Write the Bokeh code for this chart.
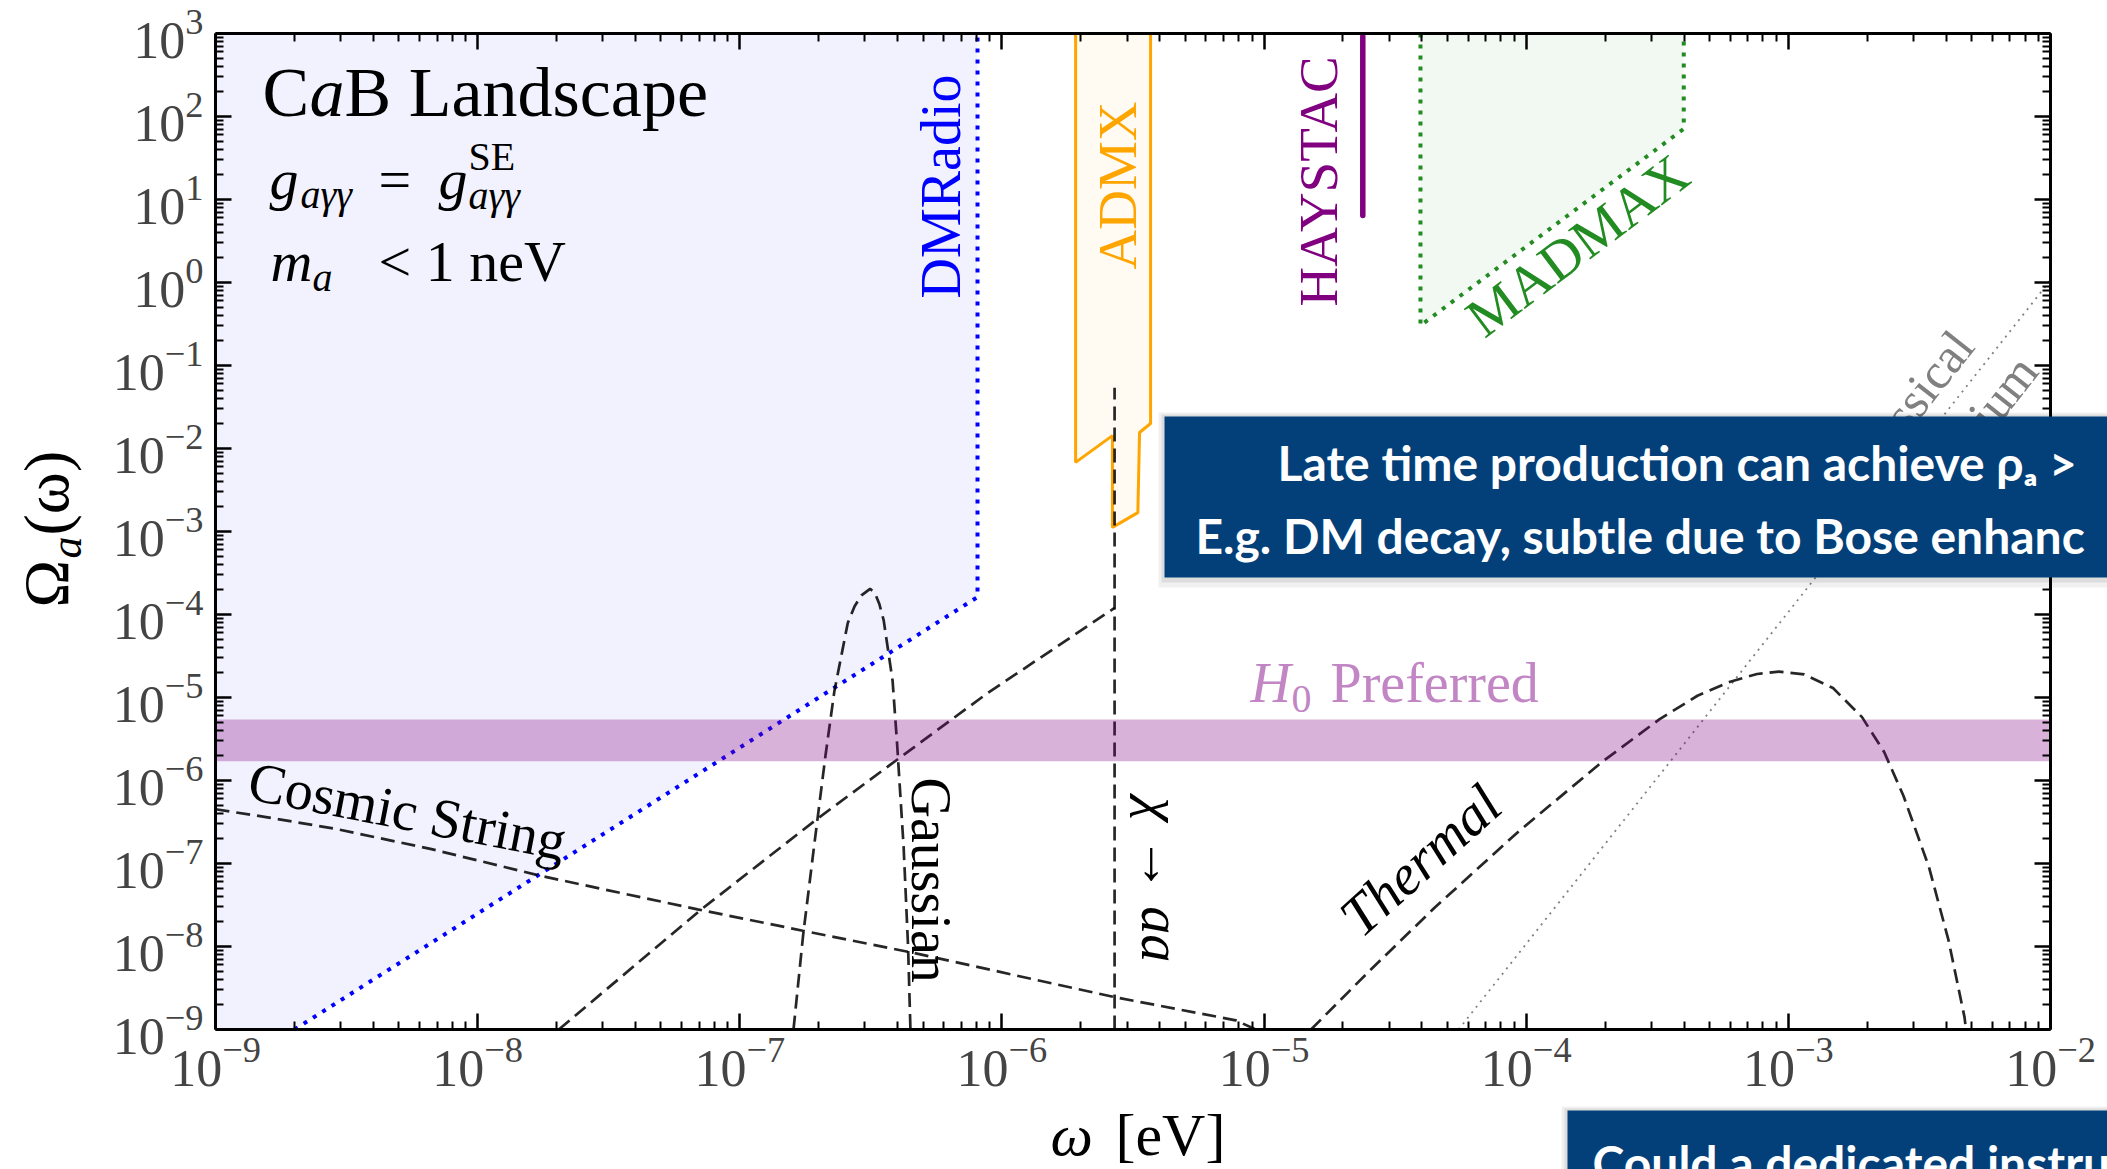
import math
from bokeh.plotting import figure
from bokeh.models import FixedTicker, LogAxis, Label, BoxAnnotation, Range1d, CustomJSTickFormatter
from bokeh.embed import file_html
from bokeh.resources import INLINE

# ---------------- data ----------------
x_major = [1e-9, 1e-8, 1e-7, 1e-6, 1e-5, 1e-4, 1e-3, 1e-2]
y_major = [1e-9, 1e-8, 1e-7, 1e-6, 1e-5, 1e-4, 1e-3, 1e-2, 1e-1, 1e0, 1e1, 1e2, 1e3]
mantissas = [2, 3, 4, 5, 6, 7, 8, 9]
x_lim = (1e-9, 1e-2)
y_lim = (1e-9, 1e3)

# DMRadio reach (dotted blue) and shaded region to its left
dmradio_x = [2.0e-9, 8.07e-7, 8.07e-7]
dmradio_y = [1e-9, 1.62e-4, 1e3]

# ADMX excluded band
admx_x = [1.91e-6, 1.91e-6, 2.64e-6, 2.64e-6, 3.30e-6, 3.35e-6, 3.69e-6, 3.69e-6]
admx_y = [1e3, 6.8e-3, 1.43e-2, 1.12e-3, 1.69e-3, 1.56e-2, 2.0e-2, 1e3]

# HAYSTAC sliver
haystac_x = [2.38e-5, 2.38e-5]
haystac_y = [9.2e2, 6.4]

# MADMAX projected reach
madmax_x = [3.95e-5, 3.95e-5, 3.99e-4, 3.99e-4]
madmax_y = [1e3, 0.303, 71.0, 1e3]

# H0 preferred band
h0_lo, h0_hi = 1.71e-6, 5.43e-6

# Cosmic string spectrum
cs_x = [1.0e-9, 1.58e-9, 2.9e-9, 6.6e-9, 1.74e-8, 6.9e-8, 1.74e-7, 4.5e-7, 2.7e-6, 7.8e-6, 9.3e-6]
cs_y = [4.5e-7, 3.6e-7, 2.6e-7, 1.5e-7, 7.1e-8, 2.8e-8, 1.55e-8, 8.5e-9, 2.45e-9, 1.29e-9, 1.0e-9]

# Gaussian spectrum
gs_x = [1.603e-7, 1.746e-7, 1.928e-7, 2.123e-7, 2.296e-7, 2.582e-7, 2.742e-7, 2.911e-7, 3.141e-7,
        3.273e-7, 3.404e-7, 3.540e-7, 3.828e-7, 3.981e-7, 4.217e-7, 4.385e-7, 4.477e-7]
gs_y = [1e-9, 1.41e-8, 1.78e-7, 2.0e-6, 1.20e-5, 7.9e-5, 1.26e-4, 1.70e-4, 2.04e-4,
        1.82e-4, 1.35e-4, 8.5e-5, 1.58e-5, 2.8e-6, 1.58e-7, 1.0e-8, 1e-9]

# chi -> aa spectrum (broad part) and line at omega = m/2
chi_x = [2.04e-8, 7.08e-8, 1.96e-7, 3.98e-7, 8.71e-7, 2.69e-6]
chi_y = [1e-9, 2.75e-8, 3.39e-7, 1.78e-6, 1.10e-5, 1.20e-4]
chiv_x = [2.69e-6, 2.69e-6]
chiv_y = [1e-9, 0.054]

# Thermal spectrum
th_x = [1.51e-5, 2.55e-5, 4.48e-5, 9.31e-5, 1.94e-4, 3.23e-4, 4.5e-4, 6.0e-4, 7.6e-4, 9.2e-4,
        1.15e-3, 1.48e-3, 1.91e-3, 2.32e-3, 2.75e-3, 3.44e-3, 4.08e-3, 4.70e-3, 4.76e-3]
th_y = [1e-9, 5.25e-9, 2.95e-8, 2.40e-7, 1.66e-6, 5.5e-6, 1.05e-5, 1.55e-5, 1.92e-5, 2.05e-5,
        1.9e-5, 1.30e-5, 5.8e-6, 2.2e-6, 6.5e-7, 9.0e-8, 1.2e-8, 1.4e-9, 1e-9]

# Classical (dotted grey) line
cl_x = [5.52e-5, 1e-2]
cl_y = [1e-9, 1.07]

# ---------------- layout ----------------
W, H = 2107, 1169
FL, FR, FT, FB = 215, 2050, 33, 1029          # pixel box of the axes
PPD_X = (FR - FL) / 7.0                        # pixels per decade
PPD_Y = (FB - FT) / 12.0
SERIF = "Liberation Serif"
BOXF = "Lato"

# the frame covers the whole canvas; axes are pinned at the data limits
xr = Range1d(10 ** (-9 - FL / PPD_X), 10 ** (-2 + (W - FR) / PPD_X))
yr = Range1d(10 ** (-9 - (H - FB) / PPD_Y), 10 ** (3 + FT / PPD_Y))

p = figure(width=W, height=H, x_axis_type="log", y_axis_type="log",
           x_range=xr, y_range=yr, output_backend="svg", toolbar_location=None,
           min_border=0)
p.grid.visible = False
p.background_fill_color = "white"
p.border_fill_color = "white"
p.outline_line_color = None

x_minor = [m * 10.0 ** k for k in range(-9, -2) for m in mantissas]
y_minor = [m * 10.0 ** k for k in range(-9, 3) for m in mantissas]


def style_axis(ax, ticks, minor, bounds, loc, labels=True, standoff=10):
    ax.ticker = FixedTicker(ticks=ticks, minor_ticks=minor)
    ax.bounds = bounds
    ax.fixed_location = loc
    ax.axis_line_color = "black"
    ax.axis_line_width = 3
    ax.major_tick_in = 16
    ax.major_tick_out = 0
    ax.major_tick_line_width = 2.5
    ax.minor_tick_in = 8
    ax.minor_tick_out = 0
    ax.minor_tick_line_width = 2
    if labels:
        ax.major_label_text_font = SERIF
        ax.major_label_text_font_size = "52px"
        ax.major_label_standoff = standoff
    else:
        ax.formatter = CustomJSTickFormatter(code="return ''")
        ax.major_label_text_font_size = "0px"
        ax.major_label_standoff = 0


style_axis(p.below[0], x_major, x_minor, x_lim, y_lim[0], standoff=8)
style_axis(p.left[0], y_major, y_minor, y_lim, x_lim[0], standoff=12)
top_ax = LogAxis()
right_ax = LogAxis()
style_axis(top_ax, x_major, x_minor, x_lim, y_lim[1], labels=False)
style_axis(right_ax, y_major, y_minor, y_lim, x_lim[1], labels=False)
p.add_layout(top_ax, "above")
p.add_layout(right_ax, "right")

# ---- regions ----
p.patch([x_lim[0], x_lim[0]] + dmradio_x, [y_lim[1], y_lim[0]] + dmradio_y,
        fill_color="blue", fill_alpha=0.05, line_color=None)
p.patch(admx_x, admx_y, fill_color="orange", fill_alpha=0.05, line_color="orange", line_width=3)
p.patch(madmax_x, madmax_y, fill_color="green", fill_alpha=0.05, line_color=None)

# ---- lines ----
p.line(dmradio_x, dmradio_y, line_color="blue", line_width=4, line_dash="4 7")
p.line(madmax_x, madmax_y, line_color="forestgreen", line_width=4, line_dash="4 7")
p.line(haystac_x, haystac_y, line_color="purple", line_width=5.5, line_cap="round")
p.line(cl_x, cl_y, line_color="gray", line_width=1.8, line_dash="2 5")

DASH = dict(line_color="black", line_alpha=0.85, line_width=2.7, line_dash="14 7")
p.line(cs_x, cs_y, **DASH)
p.line(gs_x, gs_y, **DASH)
p.line(chi_x, chi_y, **DASH)
p.line(chiv_x, chiv_y, **DASH)
p.line(th_x, th_y, **DASH)

p.varea(x=list(x_lim), y1=[h0_lo, h0_lo], y2=[h0_hi, h0_hi], fill_color="purple", fill_alpha=0.3)


# ---- text ----
def dx(px):
    return 10 ** (-9 + (px - FL) / PPD_X)


def dy(py):
    return 10 ** (3 - (py - FT) / PPD_Y)


def lab(text, px, py, size, color="black", angle=0, style="normal", align="left", font=SERIF, k=0.37):
    # (px, py) is the wanted baseline start in canvas pixels; shift compensates the renderer's baseline
    th = math.radians(angle)
    ax_ = px - k * size * math.sin(th)
    ay_ = py - k * size * math.cos(th)
    p.add_layout(Label(x=dx(ax_), y=dy(ay_), text=text, text_font=font, text_font_size=f"{size}px",
                       text_color=color, angle=angle, angle_units="deg", text_font_style=style,
                       text_align=align, text_baseline="alphabetic"))


lab("C", 262, 118, 70)
lab("a", 309, 118, 70, style="italic")
lab("B Landscape", 344, 118, 70)

lab("g", 269, 200, 58, style="italic")
lab("aγγ", 300, 209, 40, style="italic")
lab("=", 378, 200, 58)
lab("g", 438, 200, 58, style="italic")
lab("SE", 468, 171, 40)
lab("aγγ", 468, 210, 40, style="italic")

lab("m", 270, 282, 58, style="italic")
lab("a", 312, 292, 40, style="italic")
lab("< 1 neV", 378, 282, 58)

lab("DMRadio", 961, 298, 56, color="blue", angle=90)
lab("ADMX", 1137, 269, 55, color="orange", angle=90)
lab("HAYSTAC", 1338, 306, 55, color="purple", angle=90)
lab("MADMAX", 1485, 340, 56, color="forestgreen", angle=37)
lab("Cosmic String", 245, 800, 56, angle=-11)
lab("Gaussian", 910, 777, 56, angle=-90)
lab("χ → aa", 1140, 797, 56, style="italic", angle=-90)
lab("Thermal", 1362, 940, 57, style="italic", angle=42)
lab("Classical", 1977, 348, 50, color="gray", angle=51.7, align="right")
lab("Equilibrium", 2041, 373, 50, color="gray", angle=51.7, align="right")

H0C = "#c286c4"
lab("H", 1250, 703, 56, color=H0C, style="italic")
lab("0", 1291, 713, 40, color=H0C)
lab("Preferred", 1330, 703, 56, color=H0C)

# axis titles
lab("Ω", 70, 607, 64, angle=90)
lab("a", 82, 558, 44, style="italic", angle=90)
lab("(ω)", 70, 535, 64, angle=90)
lab("ω", 1050, 1157, 60, style="italic")
lab("[eV]", 1115, 1157, 60)

# ---- slide call-out boxes ----
BOXC = "#03407a"
for (l, t, b) in [(1164, 416, 577), (1567, 1110, 1400)]:
    p.add_layout(BoxAnnotation(left=dx(l - 6), right=dx(2400), top=dy(t - 4), bottom=dy(b + 10),
                               fill_color="black", fill_alpha=0.06, line_color=None))
    p.add_layout(BoxAnnotation(left=dx(l - 3), right=dx(2400), top=dy(t - 2), bottom=dy(b + 5),
                               fill_color="black", fill_alpha=0.08, line_color=None))
    p.add_layout(BoxAnnotation(left=dx(l), right=dx(2400), top=dy(t), bottom=dy(b),
                               fill_color=BOXC, fill_alpha=1.0, line_color=None))

lab("Late time production can achieve ρₐ >", 1277, 480, 48, color="white", font=BOXF, style="bold")
lab("E.g. DM decay, subtle due to Bose enhanc", 1195, 553, 48, color="white", font=BOXF, style="bold")
lab("Could a dedicated instru", 1592, 1180, 48, color="white", font=BOXF, style="bold")

open("out.html", "w").write(file_html(p, INLINE))
